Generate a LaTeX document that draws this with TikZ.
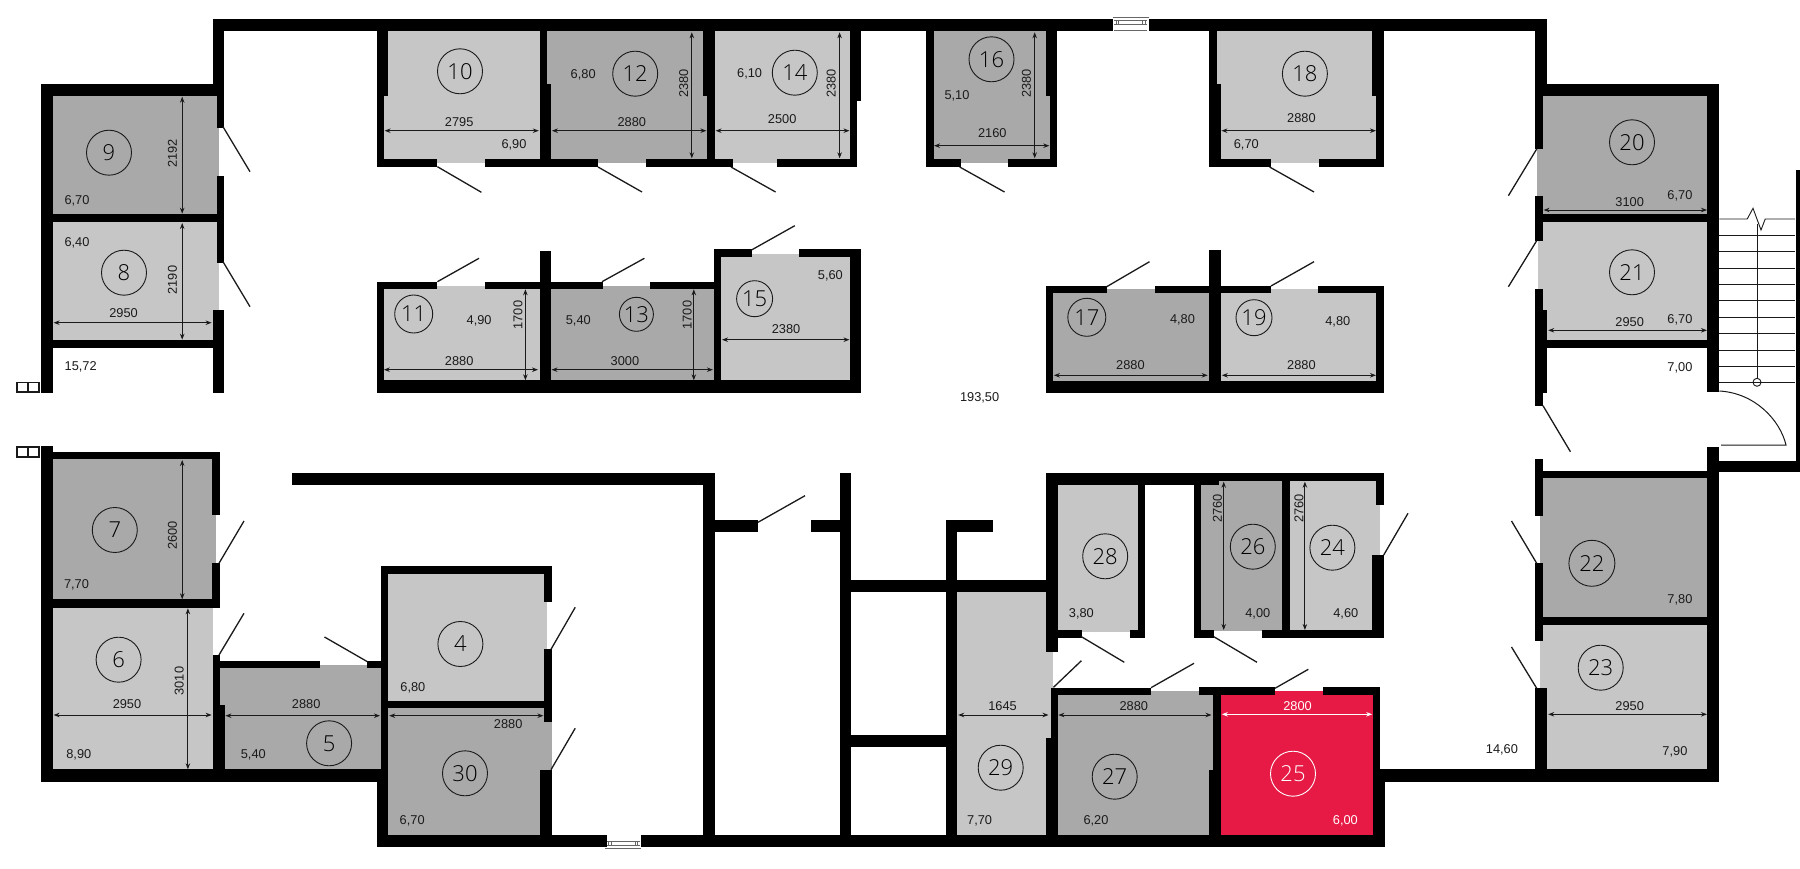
\documentclass[tikz,border=0pt]{standalone}
\usepackage{fontspec}
\setmainfont{Liberation Sans}
\newfontfamily\numfont{Open Sans Light}
\usetikzlibrary{arrows.meta}
\definecolor{rmdark}{HTML}{A9A9A9}
\definecolor{rmlight}{HTML}{C6C6C6}
\definecolor{rmred}{HTML}{E61A45}
\definecolor{inkc}{HTML}{1A1A1A}
\newcommand\rmfill[5]{\fill[#1] (#2,#3) rectangle (#4,#5);}
\newcommand\wallr[4]{\fill[black] (#1,#2) rectangle (#3,#4);}
\newcommand\doorl[4]{\draw[doorline] (#1,#2) -- (#3,#4);}
\newcommand\dimh[3]{\draw[dimline] (#1,#3) -- (#2,#3);}
\newcommand\dimv[3]{\draw[dimline] (#1,#2) -- (#1,#3);}
\newcommand\txh[4]{\node[dimtext] (#1) at (#2,#3) {#4};}
\newcommand\txv[4]{\node[dimtext,rotate=90] (#1) at (#2,#3) {#4};}
\newcommand\rnum[4]{\node[roomnum,minimum size=#4pt] (r#1) at (#2,#3) {#1};}
\tikzset{
  doorline/.style={draw=inkc,line width=1.3pt},
  dimline/.style={draw=inkc,line width=0.9pt,{Stealth[length=6pt,width=4.5pt]}-{Stealth[length=6pt,width=4.5pt]}},
  dimtext/.style={inner sep=0pt,text=inkc,text height=9.2pt,text depth=0pt,font=\fontsize{12.8}{14}\selectfont},
  roomnum/.style={circle,draw=inkc,line width=0.9pt,inner sep=0pt,text=black,font=\numfont\fontsize{22}{24}\selectfont},
  winline/.style={draw=gray!80!black,line width=0.8pt}
}
\begin{document}
\begin{tikzpicture}[x=1pt,y=-1pt]
\useasboundingbox (0,0) rectangle (1800,869);
\fill[white] (0,0) rectangle (1800,869);
% room fills
\rmfill{rmdark}{52.8}{96}{217}{214}\rmfill{rmdark}{217}{128}{219.3}{176}
\rmfill{rmlight}{52.8}{222}{217}{340}\rmfill{rmlight}{217}{263}{219.3}{310}
\rmfill{rmlight}{383.8}{31}{539.6}{160}\rmfill{rmlight}{437.4}{159}{485}{163}
\rmfill{rmdark}{546.5}{31}{707}{160}\rmfill{rmdark}{598}{159}{646}{163}
\rmfill{rmlight}{714.8}{31}{849.5}{160}\rmfill{rmlight}{733}{159}{777}{163}
\rmfill{rmdark}{933.7}{31}{1050}{160}\rmfill{rmdark}{960.5}{159}{1008}{163}
\rmfill{rmlight}{1216.5}{31}{1376.4}{160}\rmfill{rmlight}{1271}{159}{1319}{163}
\rmfill{rmlight}{383.8}{289}{539.6}{381}\rmfill{rmlight}{437.4}{285.7}{485}{290}
\rmfill{rmdark}{551}{289}{714}{381}\rmfill{rmdark}{602.7}{285.7}{649.7}{290}
\rmfill{rmlight}{721}{257}{849.5}{386}\rmfill{rmlight}{751.5}{253.7}{799}{258}
\rmfill{rmdark}{1053}{292}{1209}{381.5}\rmfill{rmdark}{1106.7}{289.3}{1155}{293}
\rmfill{rmlight}{1221}{292}{1376.4}{381.5}\rmfill{rmlight}{1271}{289.3}{1318}{293}
\rmfill{rmdark}{1543}{96}{1707}{214}\rmfill{rmdark}{1536.8}{149}{1543}{196}
\rmfill{rmlight}{1543}{222}{1707}{340}\rmfill{rmlight}{1537.5}{241}{1543}{289}
\rmfill{rmdark}{52.8}{459}{212.4}{600}\rmfill{rmdark}{212.4}{515}{215.5}{563.3}
\rmfill{rmlight}{52.8}{607.7}{213}{770}
\rmfill{rmdark}{220}{668}{381}{770}\rmfill{rmdark}{319.5}{665}{367.4}{669}
\rmfill{rmlight}{388.4}{573.7}{544.2}{702}\rmfill{rmlight}{544}{601.7}{547}{649.3}
\rmfill{rmdark}{388.4}{708}{540}{835}\rmfill{rmdark}{540}{708.3}{544.2}{770}\rmfill{rmdark}{544}{722.3}{551.5}{770}
\rmfill{rmlight}{1058}{485}{1138.4}{632}
\rmfill{rmlight}{957}{591.7}{1046}{835}\rmfill{rmlight}{1045.8}{651.7}{1053}{690}\rmfill{rmlight}{1045.8}{688}{1050.5}{738}
\rmfill{rmdark}{1057}{695}{1213.4}{835}\rmfill{rmdark}{1151}{691}{1199}{696}
\rmfill{rmred}{1221}{695}{1372.6}{835}\rmfill{rmred}{1275}{691}{1322.8}{696}
\rmfill{rmdark}{1201}{481}{1282}{631}
\rmfill{rmlight}{1289.5}{481}{1376.4}{631}\rmfill{rmlight}{1372}{505}{1380}{555}
\rmfill{rmdark}{1543}{478}{1707}{617}\rmfill{rmdark}{1540}{515.7}{1543}{563.3}
\rmfill{rmlight}{1543}{625}{1707}{770}\rmfill{rmlight}{1540}{640.7}{1543}{688.3}
% walls
\wallr{212.8}{19}{1547}{31}
\wallr{212.8}{19}{224.3}{84}\wallr{217}{84}{224.3}{128}\wallr{217}{176}{224.3}{263}\wallr{212.8}{310}{224.3}{393}
\wallr{41}{84}{224.3}{96}\wallr{41}{84}{52.8}{393}\wallr{52.8}{214}{217}{222}\wallr{52.8}{340}{212.8}{348}
\wallr{376.6}{31}{388.4}{96}\wallr{376.6}{96}{383.8}{167}\wallr{539.6}{31}{546.5}{84}\wallr{539.6}{84}{551}{167}\wallr{376.6}{159.3}{437.4}{167}\wallr{485}{159.3}{598}{167}
\wallr{702.6}{19}{714.8}{96}\wallr{707}{96}{714.8}{167}\wallr{646}{159.3}{733}{167}
\wallr{849.5}{31}{861.4}{101}\wallr{849.5}{101}{857}{167}\wallr{777}{159.3}{857}{167}
\wallr{926}{31}{933.7}{167}\wallr{1045.8}{31}{1057.3}{96}\wallr{1050}{96}{1057.3}{167}\wallr{926}{159.3}{960.5}{167}\wallr{1008}{159.3}{1057.3}{167}
\wallr{1209}{31}{1216.5}{84}\wallr{1209}{84}{1221}{167}\wallr{1371.8}{31}{1384}{96}\wallr{1376.4}{96}{1384}{167}\wallr{1209}{159.3}{1271}{167}\wallr{1319}{159.3}{1384}{167}
\wallr{1535.2}{31}{1547}{84}\wallr{1535.2}{84}{1719.3}{96}\wallr{1535.2}{84}{1543}{149}\wallr{1535.2}{196}{1543}{241}\wallr{1535.2}{289}{1543}{310}\wallr{1535.2}{310}{1547}{393}\wallr{1535.2}{393}{1543}{405.7}\wallr{1707}{84}{1719.3}{392}\wallr{1543}{214}{1707}{222}\wallr{1547}{340}{1707}{348}
\wallr{376.6}{281.7}{383.8}{393}\wallr{376.6}{281.7}{437.4}{289.3}\wallr{485}{281.7}{602.7}{289.3}\wallr{539.6}{250.7}{551}{393}\wallr{649.7}{281.7}{714.8}{289.3}\wallr{376.6}{380.3}{861.4}{393}\wallr{713.7}{249.3}{721}{393}\wallr{713.7}{249.3}{751.5}{257.3}\wallr{799}{249.3}{861.4}{257.3}\wallr{849.5}{249.3}{861.4}{393}\wallr{721}{385.3}{861.4}{393}
\wallr{1045.8}{285.7}{1053}{393}\wallr{1045.8}{285.7}{1106.7}{292.7}\wallr{1155}{285.7}{1271}{292.7}\wallr{1209}{250}{1221}{393}\wallr{1318}{285.7}{1384}{292.7}\wallr{1376.4}{285.7}{1384}{393}\wallr{1045.8}{381}{1384}{393}
\wallr{41}{446}{52.8}{781.7}\wallr{41}{769.3}{388.4}{781.7}\wallr{52.8}{451.7}{220}{459.3}\wallr{212.4}{451.7}{220}{515}\wallr{212.4}{563.3}{220}{607.7}\wallr{52.8}{599.3}{220}{607.7}\wallr{213}{655}{220}{705}\wallr{213}{705}{224.6}{769.3}\wallr{220}{660.7}{319.5}{668.3}\wallr{367.4}{660.7}{388}{668.3}\wallr{380.8}{566}{388.4}{769.3}\wallr{380.8}{566}{551.5}{573.7}\wallr{544.2}{566}{551.5}{601.7}\wallr{544.2}{649.3}{551.5}{722.3}\wallr{539.6}{769.7}{551.5}{847.3}\wallr{388.4}{701}{544.2}{708.3}\wallr{376.6}{769.3}{388.4}{847.3}\wallr{376.6}{835}{1384.5}{847.3}
\wallr{291.6}{473.3}{714.8}{485.3}\wallr{703.3}{473.3}{714.8}{835}\wallr{714.8}{520}{758}{531.7}\wallr{811.2}{520}{839.6}{531.7}\wallr{839.6}{473.3}{851}{835}\wallr{851}{579.7}{1045.8}{591.7}\wallr{945.6}{520}{957}{835}\wallr{945.6}{520}{993}{531.7}\wallr{851}{735}{945.6}{746.7}
\wallr{1045.8}{473.3}{1057.7}{651.7}\wallr{1050.5}{688.3}{1057.7}{737.7}\wallr{1045.8}{737.7}{1057.7}{835}\wallr{1045.8}{473.3}{1219}{485.3}\wallr{1219}{473.3}{1384}{481}\wallr{1138.4}{485}{1145.3}{637.7}\wallr{1130}{630}{1145.3}{637.7}\wallr{1057}{630}{1082.2}{637.7}\wallr{1194.3}{485}{1201}{637.7}\wallr{1194}{630}{1213.8}{637.7}\wallr{1262}{630}{1384}{637.7}\wallr{1282}{473.3}{1289.5}{637.7}\wallr{1376.4}{473.3}{1384}{505}\wallr{1372}{555}{1384}{637.7}
\wallr{1050.5}{688.3}{1151}{695}\wallr{1199}{687.3}{1275}{695}\wallr{1213.4}{687.3}{1221}{770}\wallr{1209}{770}{1221}{847}\wallr{1322.8}{687.3}{1380}{695}\wallr{1372.6}{687.3}{1380}{770}\wallr{1372.6}{769.3}{1384.5}{847.3}\wallr{1384}{769.3}{1719.3}{781.7}
\wallr{1535.2}{459}{1543}{515.7}\wallr{1535.2}{563.3}{1543}{640.7}\wallr{1535.2}{688.3}{1547}{781.7}\wallr{1543}{470.7}{1719.3}{478.3}\wallr{1543}{617}{1707}{625}\wallr{1707}{446.7}{1719.3}{781.7}\wallr{1719.3}{460.7}{1800}{471.7}\wallr{1795.5}{170}{1800}{471.7}
% windows
\fill[white] (1113,17) rectangle (1148.5,31);
\draw[winline] (1112.7,17.5) -- (1148.7,17.5);
\draw[winline] (1114,20.5) -- (1147,20.5) (1116,20.5) -- (1116,24.5) (1118.5,20.5) -- (1118.5,24.5) (1142.5,20.5) -- (1142.5,24.5) (1145,20.5) -- (1145,24.5) (1114,24.5) -- (1147,24.5);
\draw[winline] (1114,30.5) -- (1147,30.5);
\fill[white] (606.5,835) rectangle (640.5,848);
\draw[winline] (605,848.8) -- (641,848.8);
\draw[winline] (607,845.5) -- (640,845.5) (608.5,841.5) -- (608.5,845.5) (611,841.5) -- (611,845.5) (635,841.5) -- (635,845.5) (637.5,841.5) -- (637.5,845.5) (607,841.5) -- (640,841.5);
% small squares
\draw[inkc,line width=1.4pt] (17,382.5) rectangle (28,392) (28,382.5) rectangle (39,392);
\draw[inkc,line width=1.4pt] (17,447) rectangle (28,457) (28,447) rectangle (39,457);
% stairs
\foreach \yy in {235.7,251.7,268,284.3,300.7,317.3,333.3,350,366,382.3}
  \draw[inkc,line width=0.9pt] (1719.3,\yy) -- (1795,\yy);
\draw[inkc,line width=0.9pt] (1719.3,219) -- (1747.2,219) -- (1753,208.3) -- (1761,230) -- (1765.2,219) -- (1795,219);
\draw[inkc,line width=0.9pt] (1757,224) -- (1757,378);
\draw[inkc,line width=0.9pt] (1757,382.3) circle (4pt);
\draw[inkc,line width=1pt] (1719.3,391) .. controls (1755,393) and (1780,420) .. (1786,445) -- (1721,445);
% doors
\doorl{223}{126.7}{250}{171.7}\doorl{223}{261.7}{250}{306.7}
\doorl{437.4}{166.7}{481.4}{192.3}\doorl{598}{167}{642}{192}\doorl{731}{167}{775.6}{192}\doorl{959.7}{167}{1004.5}{192}\doorl{1269.6}{167}{1314}{192}
\doorl{1536.7}{149}{1508.4}{195.7}\doorl{1536.7}{240.7}{1508.4}{286.7}\doorl{1543}{405.7}{1570.4}{451.7}
\doorl{437.4}{281.7}{479}{258.3}\doorl{602}{281.7}{644.4}{258.3}\doorl{751.5}{250}{794.8}{225.7}\doorl{1106.7}{286.7}{1149.5}{261.7}\doorl{1271}{286}{1314}{261.7}
\doorl{219}{563.3}{244}{521}\doorl{219}{655}{244}{613.3}\doorl{367.4}{661.7}{324.5}{637}\doorl{551}{649.3}{575.2}{607.3}\doorl{551}{769.7}{575.2}{728.3}
\doorl{758}{522.3}{805}{495.7}\doorl{1081.4}{636.7}{1124.3}{662.3}\doorl{1053.5}{687.3}{1081.4}{660.7}\doorl{1151}{687.7}{1194}{663.3}\doorl{1275}{688.3}{1308.3}{669.3}\doorl{1383.7}{555}{1408}{513.3}\doorl{1213.8}{636.7}{1257}{662.3}\doorl{1536.7}{563.3}{1511.5}{521}\doorl{1536.7}{688.3}{1511.5}{647}
% dimension arrows
\dimv{182.2}{96.7}{213.7}\dimv{182.2}{223}{339.7}\dimh{53.6}{211.6}{322.7}
\dimh{384.6}{538.8}{130.7}\dimh{551.9}{706.4}{130.7}\dimv{691.8}{32.3}{158.3}
\dimh{715.6}{849.5}{130.7}\dimv{839.6}{32.3}{158.3}
\dimh{934}{1049.3}{145.7}\dimv{1034.7}{32.3}{158.3}
\dimh{1221.4}{1376}{130.7}
\dimh{383.8}{538}{369.7}\dimv{525.4}{289.3}{380.3}
\dimh{551.5}{712.9}{369.7}\dimv{693.8}{289.3}{380.3}
\dimh{722}{849.5}{339.7}
\dimh{1053.9}{1207.7}{375.3}\dimh{1221.8}{1376}{375.3}
\dimh{1543.6}{1707}{210}\dimh{1548.2}{1707}{330.3}
\dimv{182.2}{460}{599.3}\dimv{187.9}{608.3}{769.3}\dimh{53.6}{211.6}{715}
\dimh{225.4}{380}{715.7}\dimh{389.2}{543.4}{715.7}
\dimh{958.2}{1048.5}{715}\dimh{1058.4}{1211.5}{715}
\draw[dimline,draw=white] (1221.8,714.3) -- (1372.2,714.3);
\dimv{1223.7}{481.7}{630}\dimv{1304.9}{481.7}{630}
\dimh{1548.2}{1707}{714.3}
% dimension texts
\txv{t9}{172.2}{153.3}{2192}\txv{t8}{172.2}{280}{2190}\txh{w8}{123.6}{313.3}{2950}
\txh{w10}{459.2}{121.7}{2795}\txh{w12}{631.8}{121.7}{2880}\txv{t12}{683.4}{83.3}{2380}
\txh{w14}{782.2}{119}{2500}\txv{t14}{831.1}{83.3}{2380}
\txh{w16}{992.3}{133.3}{2160}\txv{t16}{1026.3}{83.3}{2380}
\txh{w18}{1301.4}{117.7}{2880}
\txh{w11}{459.2}{360.7}{2880}\txv{t11}{517.8}{315}{1700}
\txh{w13}{624.9}{360.7}{3000}\txv{t13}{686.9}{315}{1700}
\txh{w15}{786}{329.3}{2380}
\txh{w17}{1130.4}{364.7}{2880}\txh{w19}{1301.4}{364.7}{2880}
\txh{w20}{1629.7}{201.7}{3100}\txh{w21}{1629.7}{322.3}{2950}
\txv{t7}{172.2}{535.7}{2600}\txv{t6}{179}{681}{3010}\txh{w6}{127}{704.3}{2950}
\txh{w5}{306.2}{704.3}{2880}\txh{w30}{508.2}{724.3}{2880}
\txh{w29}{1002.6}{705.7}{1645}\txh{w27}{1133.8}{706.3}{2880}
\node[dimtext,text=white] (w25) at (1297.6,706) {2800};
\txv{t26}{1217.2}{508.3}{2760}\txv{t24}{1298.7}{508.3}{2760}
\txh{w23}{1629.7}{706}{2950}
% areas
\txh{a9}{77}{200}{6,70}\txh{a8}{77}{242.3}{6,40}\txh{a1572}{80.7}{366}{15,72}
\txh{a10}{514}{144.3}{6,90}\txh{a12}{583.2}{73.7}{6,80}\txh{a14}{749.6}{73.3}{6,10}\txh{a16}{957}{95.3}{5,10}\txh{a18}{1246.3}{144.3}{6,70}
\txh{a11}{479.1}{320}{4,90}\txh{a13}{578.3}{320}{5,40}\txh{a15}{830.4}{274.7}{5,60}\txh{a17}{1182.5}{319}{4,80}\txh{a19}{1337.8}{320.7}{4,80}
\txh{a20}{1679.9}{195.3}{6,70}\txh{a21}{1679.9}{319.3}{6,70}\txh{a700}{1679.9}{366.7}{7,00}\txh{a193}{979.6}{396.7}{193,50}
\txh{a7}{76.5}{584}{7,70}\txh{a6}{78.8}{754.3}{8,90}\txh{a5}{253.3}{754.3}{5,40}\txh{a4}{412.9}{687.3}{6,80}\txh{a30}{412.2}{820}{6,70}
\txh{a28}{1081.4}{613.3}{3,80}\txh{a29}{979.6}{820}{7,70}\txh{a27}{1096}{820}{6,20}\txh{a26}{1257.8}{613.3}{4,00}\txh{a24}{1345.8}{613.3}{4,60}
\node[dimtext,text=white] (a25) at (1345.4,820) {6,00};
\txh{a22}{1679.9}{599}{7,80}\txh{a23}{1674.9}{751}{7,90}\txh{a146}{1501.9}{748.7}{14,60}
% room numbers
\rnum{9}{109}{152.7}{45}\rnum{8}{124}{272.7}{45}\rnum{10}{460}{71.3}{45}\rnum{12}{635.2}{73.7}{45}\rnum{14}{794.8}{72.7}{45}\rnum{16}{991.5}{59.3}{45}\rnum{18}{1304.9}{73.7}{45}
\rnum{11}{413.7}{314}{38}\rnum{13}{636.4}{314.3}{34}\rnum{15}{754.6}{298.7}{36}\rnum{17}{1086.8}{317.3}{38}\rnum{19}{1254}{317.7}{36}
\rnum{20}{1632}{142.3}{45}\rnum{21}{1632}{272.3}{45}
\rnum{7}{114.8}{530}{45}\rnum{6}{118.6}{659.7}{45}\rnum{5}{329.1}{743.3}{45}\rnum{4}{460.4}{644}{45}\rnum{30}{465}{773.3}{45}
\rnum{28}{1105.2}{556.3}{45}\rnum{29}{1000.7}{767.7}{45}\rnum{27}{1114.7}{776.7}{45}
\node[roomnum,draw=white,text=white,minimum size=45pt] (r25) at (1293,773.7) {25};
\rnum{26}{1252.8}{546.7}{45}\rnum{24}{1332.4}{547.7}{45}\rnum{22}{1591.9}{563.3}{46}\rnum{23}{1600.7}{667.7}{45}
\end{tikzpicture}
\end{document}
